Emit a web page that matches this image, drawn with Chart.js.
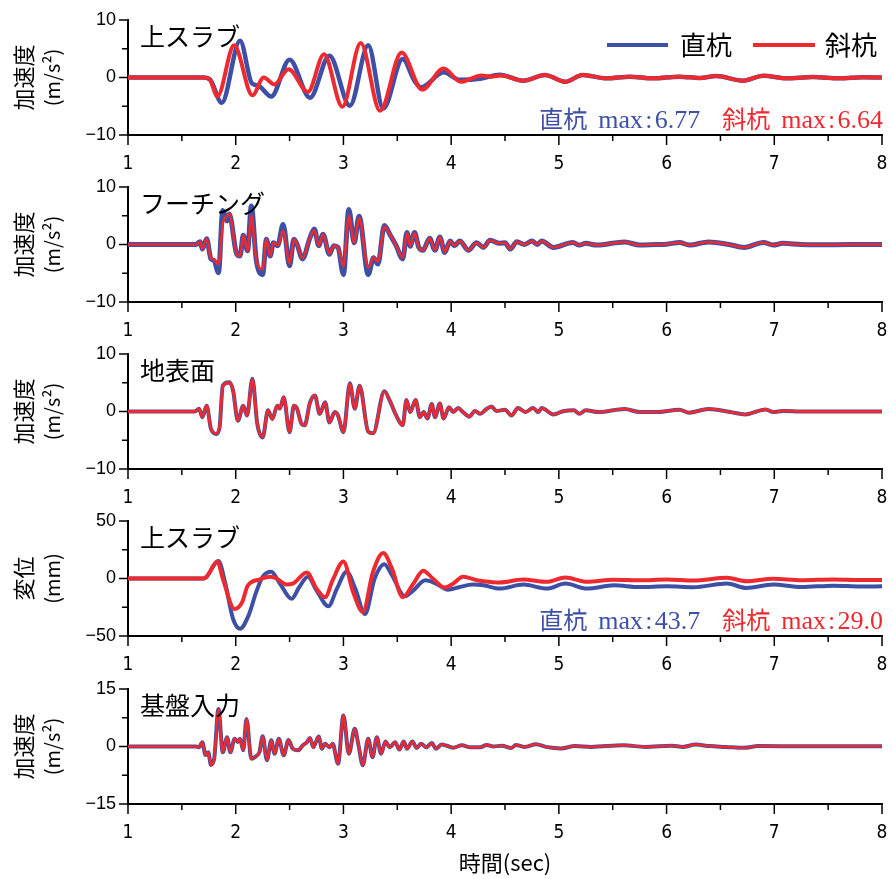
<!DOCTYPE html>
<html>
<head>
<meta charset="utf-8">
<script src="https://cdn.jsdelivr.net/npm/chart.js@4.4.1/dist/chart.umd.min.js"></script>
<style>
  body { margin: 0; background: #fff; }
  canvas { position: absolute; left: 0; }
</style>
</head>
<body>
<canvas id="p1" width="893" height="175" style="top:5px"></canvas>
<canvas id="p2" width="893" height="175" style="top:172px"></canvas>
<canvas id="p3" width="893" height="175" style="top:339px"></canvas>
<canvas id="p4" width="893" height="175" style="top:506px"></canvas>
<canvas id="p5" width="893" height="205" style="top:674px"></canvas>
<script>
const BLUE = '#3D50A6';
const RED = '#EC2A30';
const JP = "'Noto Sans CJK JP', 'Noto Sans', sans-serif";

// ---- tick labels ----
const timeTickLabels = [1, 2, 3, 4, 5, 6, 7, 8];
const accTickLabels = [-10, 0, 10];
const dispTickLabels = [-50, 0, 50];
const baseTickLabels = [-15, 0, 15];

// ---- 上スラブ acceleration (m/s2) ----
const slabAccStraightT = [1.0, 1.70, 1.76, 1.87, 2.04, 2.15, 2.21, 2.33, 2.50, 2.69, 2.87, 3.06, 3.23, 3.37, 3.55, 3.66, 3.72, 3.93, 4.08, 4.27, 4.45, 4.67, 4.87, 5.06, 5.22, 5.44, 5.66, 5.87, 6.12, 6.31, 6.46, 6.71, 6.90, 7.11, 7.36, 7.61, 7.82, 8.0];
const slabAccStraight  = [0, 0, -0.3, -4.4, 6.4, -1.0, -1.4, -3.3, 3.1, -3.5, 3.8, -4.9, 5.6, -5.4, 3.2, -0.6, -1.7, 0.9, -0.4, -0.2, 0.5, -0.55, 0.45, -0.75, 0.45, -0.15, 0.15, -0.15, 0.15, -0.1, 0.25, -0.55, 0.3, -0.15, 0.1, -0.15, 0.05, 0.0];
const slabAccInclinedT = [1.0, 1.70, 1.76, 1.83, 1.985, 2.155, 2.26, 2.36, 2.49, 2.67, 2.82, 2.99, 3.16, 3.34, 3.54, 3.73, 3.93, 4.09, 4.28, 4.37, 4.46, 4.67, 4.87, 5.06, 5.22, 5.44, 5.66, 5.87, 6.12, 6.31, 6.46, 6.71, 6.90, 7.11, 7.36, 7.61, 7.82, 8.0];
const slabAccInclined  = [0, 0, -0.4, -3.3, 5.6, -3.1, 0.0, -1.2, 1.45, -2.5, 4.05, -5.1, 6.0, -5.8, 4.35, -2.1, 1.55, -0.75, 0.35, 0.15, 0.35, -0.55, 0.45, -0.75, 0.45, -0.15, 0.15, -0.15, 0.15, -0.1, 0.25, -0.55, 0.3, -0.15, 0.1, -0.15, 0.05, 0.0];

// ---- フーチング acceleration (m/s2) ----
const footingT = [1.0, 1.63, 1.67, 1.69, 1.73, 1.77, 1.80, 1.84, 1.88, 1.92, 1.94, 2.01, 2.04, 2.07, 2.11, 2.145, 2.19, 2.25, 2.285, 2.32, 2.35, 2.39, 2.44, 2.50, 2.54, 2.57, 2.62, 2.69, 2.73, 2.77, 2.81, 2.87, 2.91, 2.95, 3.00, 3.05, 3.10, 3.145, 3.23, 3.28, 3.32, 3.38, 3.43, 3.49, 3.55, 3.59, 3.62, 3.66, 3.70, 3.74, 3.80, 3.85, 3.895, 3.94, 3.99, 4.03, 4.08, 4.16, 4.235, 4.30, 4.36, 4.45, 4.50, 4.55, 4.61, 4.68, 4.75, 4.80, 4.84, 4.95, 5.13, 5.19, 5.25, 5.35, 5.61, 5.75, 5.90, 6.00, 6.12, 6.21, 6.39, 6.58, 6.72, 6.90, 6.99, 7.08, 7.25, 7.40, 7.70, 8.0];
const footingStraight = [0, 0, 0.5, -0.8, 1.0, -2.5, -2.8, -4.9, 5.9, 4.1, 5.3, -1.7, -2.0, 1.6, -1.1, 6.7, -2.6, -5.2, 0.9, -2.0, 0.3, -0.2, 3.5, -3.7, 0.9, 0, -2.5, 1.2, 2.7, -0.2, 1.8, -1.7, -0.2, -0.5, -5.2, 6.1, 0.3, 4.9, -5.2, -2.3, -3.4, 3.3, 1.8, -0.2, -2.5, 2.1, -0.3, 2.1, -0.5, -1.0, 1.1, -1.0, 1.3, -1.4, 0.6, -0.2, 0.6, -1.0, 0.3, -0.5, 0.75, 0.2, 0.3, -0.8, 0.5, 0.0, 0.6, 0.0, 0.6, -0.5, 0.35, -0.1, 0.2, -0.1, 0.45, -0.1, 0.0, 0.05, 0.35, -0.1, 0.45, 0.0, -0.5, 0.35, -0.1, 0.2, 0.0, -0.05, 0.0, 0.0];
const footingInclined = [0, 0, 0.5, -0.8, 1.0, -2.4, -2.6, -3.5, 3.5, 5.0, 5.3, -1.7, -2.0, 1.6, -1.1, 5.0, -2.6, -4.3, 0.9, -2.0, 0.3, -0.2, 2.4, -3.3, 0.9, 0, -2.4, 1.2, 2.5, -0.2, 1.8, -1.6, -0.2, -0.5, -3.8, 5.0, 0.3, 4.6, -4.0, -2.2, -3.0, 3.1, 1.8, -0.2, -2.3, 2.0, -0.3, 2.0, -0.5, -1.0, 1.1, -1.0, 1.3, -1.3, 0.6, -0.2, 0.6, -1.0, 0.3, -0.5, 0.75, 0.2, 0.3, -0.8, 0.5, 0.0, 0.6, 0.0, 0.6, -0.5, 0.35, -0.1, 0.2, -0.1, 0.45, -0.1, 0.0, 0.05, 0.35, -0.1, 0.45, 0.0, -0.5, 0.35, -0.1, 0.2, 0.0, -0.05, 0.0, 0.0];

// ---- 地表面 acceleration (m/s2) ----
const groundT = [1.0, 1.62, 1.66, 1.69, 1.73, 1.77, 1.82, 1.85, 1.88, 1.94, 1.975, 2.02, 2.07, 2.105, 2.155, 2.20, 2.25, 2.30, 2.34, 2.385, 2.41, 2.445, 2.50, 2.54, 2.565, 2.61, 2.64, 2.69, 2.735, 2.78, 2.83, 2.87, 2.92, 2.95, 3.00, 3.06, 3.105, 3.15, 3.23, 3.275, 3.38, 3.43, 3.49, 3.55, 3.585, 3.62, 3.67, 3.71, 3.745, 3.78, 3.82, 3.85, 3.895, 3.93, 3.98, 4.02, 4.065, 4.11, 4.17, 4.22, 4.27, 4.32, 4.375, 4.42, 4.50, 4.56, 4.62, 4.69, 4.76, 4.81, 4.84, 4.95, 5.04, 5.14, 5.19, 5.25, 5.37, 5.61, 5.75, 5.90, 6.12, 6.21, 6.39, 6.59, 6.73, 6.92, 6.99, 7.08, 7.25, 7.65, 8.0];
const groundStraight = [0, 0, 0.5, -1.0, 1.0, -3.0, -3.9, -2.8, 4.5, 5.1, 3.7, -1.6, 1.0, -0.7, 5.7, -2.1, -4.5, 0.2, -1.3, 1.0, 0.5, 2.5, -3.6, 1.0, 0.7, -2.1, -2.4, 1.6, 2.8, -0.4, 1.6, -1.9, -0.1, -0.7, -3.6, 4.9, 0.5, 4.5, -3.5, -3.8, 3.5, 1.9, -0.7, -2.4, 2.0, -0.1, 2.0, -1.0, -0.1, -1.2, 1.3, -1.0, 1.4, -1.2, 0.75, -0.1, 0.6, -0.1, -0.9, 0.1, -0.4, 0.3, 0.85, 0.1, 0.3, -0.7, 0.6, -0.1, 0.6, -0.1, 0.6, -0.5, 0.05, 0.2, -0.4, 0.2, -0.1, 0.45, -0.1, -0.1, 0.3, -0.2, 0.45, -0.1, -0.5, 0.35, -0.1, 0.1, 0.0, 0.0, 0.0];
const groundInclined = [0, 0, 0.5, -1.0, 1.0, -3.0, -3.8, -2.8, 4.4, 5.0, 3.7, -1.6, 1.0, -0.7, 5.6, -2.1, -4.4, 0.2, -1.3, 1.0, 0.5, 2.5, -3.5, 1.0, 0.7, -2.1, -2.4, 1.6, 2.8, -0.4, 1.6, -1.9, -0.1, -0.7, -3.6, 4.8, 0.5, 4.4, -3.5, -3.8, 3.4, 1.9, -0.7, -2.4, 2.0, -0.1, 2.0, -1.0, -0.1, -1.2, 1.3, -1.0, 1.4, -1.2, 0.75, -0.1, 0.6, -0.1, -0.9, 0.1, -0.4, 0.3, 0.85, 0.1, 0.3, -0.7, 0.6, -0.1, 0.6, -0.1, 0.6, -0.5, 0.05, 0.2, -0.4, 0.2, -0.1, 0.45, -0.1, -0.1, 0.3, -0.2, 0.45, -0.1, -0.5, 0.35, -0.1, 0.1, 0.0, 0.0, 0.0];

// ---- 上スラブ displacement (mm) ----
const slabDispStraightT = [1.0, 1.70, 1.73, 1.84, 1.90, 1.975, 2.04, 2.12, 2.19, 2.25, 2.33, 2.41, 2.52, 2.59, 2.67, 2.75, 2.86, 2.94, 3.03, 3.11, 3.20, 3.29, 3.38, 3.45, 3.57, 3.65, 3.76, 3.86, 3.97, 4.08, 4.20, 4.30, 4.45, 4.67, 4.89, 5.06, 5.26, 5.51, 5.75, 6.0, 6.25, 6.56, 6.74, 6.99, 7.25, 7.55, 7.8, 8.0];
const slabDispStraight  = [0, 0, 1.5, 15.3, -2.9, -35, -43.7, -32, -11.8, 1.5, 5.9, -4.4, -17.6, -7.4, 1.5, -10.3, -24.1, -8.8, 5.9, -8.8, -30.9, 0, 12.4, 3, -15.3, -10.3, -1.5, -4.4, -9.7, -7.4, -5.3, -5.9, -8.8, -5.3, -8.8, -4.4, -8.8, -5.9, -7.4, -6.8, -7.6, -4.4, -8.2, -5.3, -7.4, -6.2, -7.0, -6.8];
const slabDispInclinedT = [1.0, 1.70, 1.73, 1.83, 1.88, 1.99, 2.06, 2.11, 2.22, 2.32, 2.38, 2.47, 2.53, 2.66, 2.75, 2.83, 2.90, 3.00, 3.09, 3.18, 3.275, 3.37, 3.45, 3.55, 3.65, 3.74, 3.83, 3.94, 4.02, 4.11, 4.24, 4.30, 4.45, 4.67, 4.89, 5.06, 5.26, 5.51, 5.75, 6.0, 6.25, 6.56, 6.74, 6.99, 7.25, 7.55, 7.8, 8.0];
const slabDispInclined  = [0, 0, 1.5, 14.7, 0, -26.5, -20.6, -6.5, -0.9, 1.5, 0, -5.3, -4.5, 5.3, -8.8, -16.2, -1.5, 14.7, -11.8, -29.0, 5.9, 22.1, 8.8, -16.2, -4.4, 6.8, 0, -7.9, -4.4, 1.5, -1.5, -2.4, -3.5, -0.9, -2.9, 0.9, -2.9, -1.0, -1.5, -0.9, -1.8, 0.6, -2.4, -0.3, -1.5, -0.8, -1.3, -1.2];

// ---- 基盤入力 acceleration (m/s2) ----
const baseT = [1.0, 1.63, 1.66, 1.69, 1.72, 1.745, 1.77, 1.80, 1.84, 1.88, 1.92, 1.95, 1.99, 2.02, 2.04, 2.07, 2.10, 2.145, 2.19, 2.22, 2.25, 2.29, 2.33, 2.36, 2.40, 2.445, 2.49, 2.53, 2.58, 2.62, 2.66, 2.69, 2.72, 2.77, 2.80, 2.83, 2.87, 2.90, 2.95, 3.00, 3.05, 3.105, 3.14, 3.18, 3.23, 3.27, 3.31, 3.35, 3.39, 3.43, 3.48, 3.52, 3.56, 3.59, 3.64, 3.68, 3.72, 3.77, 3.82, 3.86, 3.91, 3.96, 4.02, 4.10, 4.18, 4.27, 4.33, 4.39, 4.47, 4.56, 4.60, 4.68, 4.79, 4.88, 5.02, 5.15, 5.30, 5.60, 5.80, 6.05, 6.15, 6.27, 6.40, 6.55, 6.72, 6.85, 7.3, 8.0];
const baseInput = [0, 0, -0.2, 1.1, -2.2, -1.5, -4.8, -3.2, 9.8, -1.5, 2.4, -1.5, 2.0, 1.2, 2.0, -1.0, 7.2, -3.2, -2.5, -1.5, 2.7, -3.6, 1.6, -1.9, 2.0, -2.3, 1.7, -0.6, -1.0, 0.2, 1.1, 2.2, -0.2, 2.6, -0.6, 0.7, -0.2, 0.7, -4.5, 8.1, -1.9, 4.6, 0.3, -4.9, 2.0, -2.8, 2.4, -1.9, 1.3, -0.2, 1.1, -0.8, 1.3, -0.6, 1.3, -0.4, 0.7, -0.2, 0.9, -0.6, 0.5, 0.2, -0.3, 0.3, -0.2, -0.2, 0.4, 0.0, 0.2, -0.4, 0.4, -0.1, 0.6, -0.1, -0.5, 0.1, -0.1, 0.3, -0.1, 0.2, -0.1, 0.5, 0.1, -0.1, -0.35, 0.1, 0.05, 0.05];

const pts = (ts, vs) => ts.map((t, i) => ({ x: t, y: vs[i] }));

// tick marks: long for labelled ticks, short for the others
const tickMarks = {
  id: 'tickMarks',
  afterDraw(chart) {
    const { ctx, chartArea, scales } = chart;
    ctx.save();
    ctx.strokeStyle = '#000';
    ctx.lineWidth = 1.5;
    scales.x.ticks.forEach(t => {
      const px = scales.x.getPixelForValue(t.value);
      const len = t.label !== '' ? 10 : 6;
      ctx.beginPath();
      ctx.moveTo(px, chartArea.bottom);
      ctx.lineTo(px, chartArea.bottom + len);
      ctx.stroke();
    });
    scales.y.ticks.forEach(t => {
      const py = scales.y.getPixelForValue(t.value);
      const len = t.label !== '' ? 9 : 6;
      ctx.beginPath();
      ctx.moveTo(chartArea.left, py);
      ctx.lineTo(chartArea.left - len, py);
      ctx.stroke();
    });
    ctx.restore();
  }
};

// panel caption, y-axis title, legend and max notes
const panelText = {
  id: 'panelText',
  afterDraw(chart, args, o) {
    const { ctx, chartArea } = chart;
    const midY = (chartArea.top + chartArea.bottom) / 2;
    ctx.save();
    ctx.fillStyle = '#000';
    ctx.textBaseline = 'middle';
    ctx.font = `25px ${JP}`;
    ctx.fillText(o.caption, 140, chartArea.top + 16);

    // y title, two rotated lines
    ctx.save();
    ctx.translate(24, midY);
    ctx.rotate(-Math.PI / 2);
    ctx.textAlign = 'center';
    ctx.font = `22px ${JP}`;
    ctx.fillText(o.yTitle[0], 0, 0);
    ctx.font = `20px ${JP}`;
    ctx.fillText(o.yTitle[1], 0, 28);
    ctx.restore();

    if (o.legend) {
      const ly = chartArea.top + 25;
      ctx.lineWidth = 4;
      ctx.strokeStyle = BLUE;
      ctx.beginPath(); ctx.moveTo(607, ly); ctx.lineTo(668, ly); ctx.stroke();
      ctx.strokeStyle = RED;
      ctx.beginPath(); ctx.moveTo(753, ly); ctx.lineTo(815, ly); ctx.stroke();
      ctx.font = `26px ${JP}`;
      ctx.fillStyle = '#000';
      ctx.fillText('直杭', 680, ly);
      ctx.fillText('斜杭', 825, ly);
    }

    if (o.maxNotes) {
      const base = chartArea.bottom - 7;
      ctx.textBaseline = 'alphabetic';
      const parts = [
        { t: '直杭', f: `24px ${JP}`, c: BLUE, gap: 11 },
        { t: 'max\u200A:\u200A' + o.maxNotes[0], f: "26px 'Liberation Serif', serif", c: BLUE, gap: 22 },
        { t: '斜杭', f: `24px ${JP}`, c: RED, gap: 11 },
        { t: 'max\u200A:\u200A' + o.maxNotes[1], f: "26px 'Liberation Serif', serif", c: RED, gap: 0 }
      ];
      let total = 0;
      parts.forEach(p => { ctx.font = p.f; p.w = ctx.measureText(p.t).width; total += p.w + p.gap; });
      let x = 883 - total;
      parts.forEach(p => {
        ctx.font = p.f;
        ctx.fillStyle = p.c;
        ctx.fillText(p.t, x, base);
        x += p.w + p.gap;
      });
    }
    ctx.restore();
  }
};

function makePanel(id, cfg) {
  const xAxisHeight = cfg.xTitle ? 75 : 45;
  new Chart(document.getElementById(id), {
    type: 'line',
    data: {
      datasets: [
        {
          label: '斜杭', data: cfg.red, borderColor: RED, borderWidth: cfg.redWidth,
          pointRadius: 0, cubicInterpolationMode: 'monotone', order: 0
        },
        {
          label: '直杭', data: cfg.blue, borderColor: BLUE, borderWidth: cfg.blueWidth,
          pointRadius: 0, cubicInterpolationMode: 'monotone', order: 1
        }
      ]
    },
    options: {
      responsive: false,
      animation: false,
      events: [],
      layout: { padding: { top: 15, left: 0, right: 11, bottom: 0 } },
      plugins: {
        legend: { display: false },
        tooltip: { enabled: false },
        panelText: { caption: cfg.caption, yTitle: cfg.yTitle, legend: cfg.legend, maxNotes: cfg.maxNotes }
      },
      scales: {
        x: {
          type: 'linear', min: 1, max: 8,
          afterFit: s => { s.height = xAxisHeight; s.paddingLeft = 0; s.paddingRight = 0; },
          afterBuildTicks: s => { s.ticks = []; for (let v = 1; v <= 8; v += 0.5) s.ticks.push({ value: v }); },
          ticks: {
            autoSkip: false, maxRotation: 0, padding: 18, color: '#000',
            font: { family: "'Liberation Sans Narrow', 'DejaVu Sans Condensed', 'Noto Sans CJK JP', sans-serif", size: 19 },
            callback: v => timeTickLabels.includes(v) ? String(v) : ''
          },
          grid: { display: true, drawOnChartArea: false, drawTicks: false },
          border: { display: true, color: '#000', width: 2 },
          title: cfg.xTitle
            ? { display: true, text: cfg.xTitle, color: '#000', font: { family: JP, size: 22 }, padding: { top: 0, bottom: 3 } }
            : { display: false }
        },
        y: {
          min: -cfg.yMax, max: cfg.yMax,
          afterFit: s => { s.width = 128; s.paddingTop = 0; s.paddingBottom = 0; },
          afterBuildTicks: s => { s.ticks = []; for (let v = -cfg.yMax; v <= cfg.yMax + 1e-9; v += cfg.yStep) s.ticks.push({ value: v }); },
          ticks: {
            padding: 12, color: '#000',
            font: { family: "'Liberation Sans', Arial, sans-serif", size: 18 },
            callback: v => cfg.yLabels.includes(v) ? String(v).replace('-', '\u2212') : ''
          },
          grid: { display: true, drawOnChartArea: false, drawTicks: false },
          border: { display: true, color: '#000', width: 2 }
        }
      }
    },
    plugins: [tickMarks, panelText]
  });
}

makePanel('p1', {
  caption: '上スラブ', yTitle: ['加速度', '(m/s²)'], yMax: 10, yStep: 5, yLabels: accTickLabels,
  blue: pts(slabAccStraightT, slabAccStraight), red: pts(slabAccInclinedT, slabAccInclined),
  blueWidth: 4.5, redWidth: 4, legend: true, maxNotes: ['6.77', '6.64']
});
makePanel('p2', {
  caption: 'フーチング', yTitle: ['加速度', '(m/s²)'], yMax: 10, yStep: 5, yLabels: accTickLabels,
  blue: pts(footingT, footingStraight), red: pts(footingT, footingInclined),
  blueWidth: 5, redWidth: 2.5
});
makePanel('p3', {
  caption: '地表面', yTitle: ['加速度', '(m/s²)'], yMax: 10, yStep: 5, yLabels: accTickLabels,
  blue: pts(groundT, groundStraight), red: pts(groundT, groundInclined),
  blueWidth: 4, redWidth: 2.8
});
makePanel('p4', {
  caption: '上スラブ', yTitle: ['変位', '(mm)'], yMax: 50, yStep: 25, yLabels: dispTickLabels,
  blue: pts(slabDispStraightT, slabDispStraight), red: pts(slabDispInclinedT, slabDispInclined),
  blueWidth: 4, redWidth: 4, maxNotes: ['43.7', '29.0']
});
makePanel('p5', {
  caption: '基盤入力', yTitle: ['加速度', '(m/s²)'], yMax: 15, yStep: 7.5, yLabels: baseTickLabels,
  blue: pts(baseT, baseInput), red: pts(baseT, baseInput),
  blueWidth: 4, redWidth: 2.5, xTitle: '時間(sec)'
});
</script>
</body>
</html>
